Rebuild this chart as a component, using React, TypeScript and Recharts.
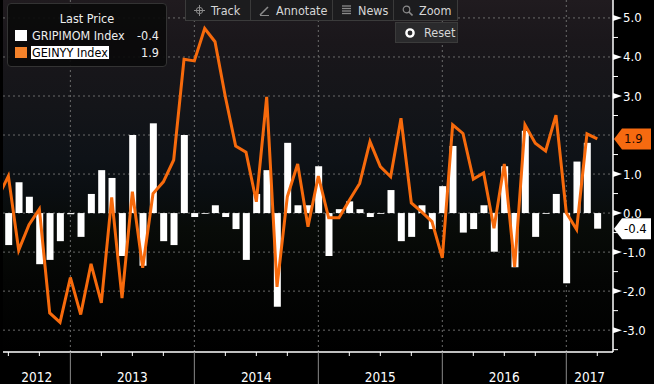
import React from "react";
import { ComposedChart, Bar, Line, XAxis, YAxis, CartesianGrid, ReferenceLine } from "recharts";

const FONT = '"DejaVu Sans Condensed", "DejaVu Sans", sans-serif';
const ORANGE = "#f76a0c";

// month-end observations
const months = [
  "2012-05", "2012-06", "2012-07", "2012-08", "2012-09", "2012-10", "2012-11", "2012-12",
  "2013-01", "2013-02", "2013-03", "2013-04", "2013-05", "2013-06", "2013-07", "2013-08", "2013-09", "2013-10", "2013-11", "2013-12",
  "2014-01", "2014-02", "2014-03", "2014-04", "2014-05", "2014-06", "2014-07", "2014-08", "2014-09", "2014-10", "2014-11", "2014-12",
  "2015-01", "2015-02", "2015-03", "2015-04", "2015-05", "2015-06", "2015-07", "2015-08", "2015-09", "2015-10", "2015-11", "2015-12",
  "2016-01", "2016-02", "2016-03", "2016-04", "2016-05", "2016-06", "2016-07", "2016-08", "2016-09", "2016-10", "2016-11", "2016-12",
  "2017-01", "2017-02", "2017-03",
];

// GRIPIMOM Index (bars)
const gripimom = [
  null, -0.82, 0.79, 0.42, -1.31, -1.2, -0.72, -0.03,
  -0.61, 0.49, 1.1, 0.9, -1.1, 2.0, -1.35, 2.3, -0.72, -0.82, 2.0, -0.1,
  -0.02, 0.2, -0.1, -0.41, -1.2, 0.49, 1.1, -2.4, 1.8, 0.2, 0.2, 1.2,
  -1.1, 0.1, 0.3, 0.1, -0.1, -0.02, 0.59, -0.72, -0.61, 0.2, -0.41, 0.69,
  1.72, -0.5, -0.41, 0.2, -0.99, 1.2, -1.39, 2.11, -0.61, -0.02, 0.49, -1.8,
  1.32, 1.8, -0.4,
];

// GEINYY Index (line)
const geinyy = [
  0.4, 0.95, -0.95, -0.3, 0.1, -2.56, -2.8, -1.65,
  -2.6, -1.3, -2.3, 0.4, -2.18, 0.55, -1.4, 0.5, 0.8, 1.36, 3.94, 3.9,
  4.73, 4.39, 2.98, 1.72, 1.56, 0.29, 2.98, -1.89, 0.42, 1.26, -0.35, 0.95,
  -0.12, -0.12, 0.33, 0.76, 1.83, 1.19, 0.93, 2.43, 0.26, 0.03, -0.22, -1.15,
  2.26, 2.04, 0.87, 1.03, -0.39, 1.26, -1.38, 2.26, 1.79, 1.59, 2.51, 0.01,
  -0.42, 2.03, 1.9,
];

const years = ["2012", "2013", "2014", "2015", "2016", "2017"];
const yTicks = [-3.5, -3, -2.5, -2, -1.5, -1, -0.5, 0, 0.5, 1, 1.5, 2, 2.5, 3, 3.5, 4, 4.5, 5];
const xDomain: [number, number] = [5.48, 64.52];
const yDomain: [number, number] = [-3.56, 5.46];

const monthIndex = (m: string) => {
  const [y, mo] = m.split("-").map(Number);
  return (y - 2012) * 12 + mo;
};

const data = months.map((m, i) => ({ t: monthIndex(m), bar: gripimom[i], line: geinyy[i] }));
const quarterTicks = data.map((d) => d.t).filter((t) => t % 3 === 0);
const yearStarts = years.map((_, i) => i * 12).filter((t) => t > xDomain[0] && t < xDomain[1]);
const yearCenters = years.map((_, i) => {
  const a = Math.max(i * 12, xDomain[0]);
  const b = Math.min(i * 12 + 12, xDomain[1]);
  return (a + b) / 2;
});
const xTicks = Array.from(new Set([...quarterTicks, ...yearCenters])).sort((a, b) => a - b);
const gridY = yTicks.filter((v) => Number.isInteger(v));
const lastBar = gripimom[gripimom.length - 1] as number;
const lastLine = geinyy[geinyy.length - 1];
const tagValues = [lastBar, lastLine];

function TimeTick(props: any) {
  const { x, y, payload } = props;
  const v = payload.value as number;
  const yi = yearCenters.indexOf(v);
  return (
    <g>
      {quarterTicks.includes(v) &&
        (v % 12 === 0 ? (
          <line x1={x} y1={y} x2={x} y2={y + 34} stroke="#8a8a8a" strokeWidth={1} />
        ) : (
          <line x1={x} y1={y} x2={x} y2={y + 4} stroke="#fff" strokeWidth={1} />
        ))}
      {yi >= 0 && (
        <text x={x} y={y + 30} textAnchor="middle" fill="#fff" fontFamily={FONT} fontSize={13.5}>
          {years[yi]}
        </text>
      )}
    </g>
  );
}

function PriceTick(props: any) {
  const { x, y, payload } = props;
  const v = payload.value as number;
  if (!Number.isInteger(v)) {
    return <line x1={x} y1={y} x2={x + 5} y2={y} stroke="#fff" strokeWidth={1} />;
  }
  if (tagValues.some((t) => Math.abs(t - v) < 0.3)) return <g />;
  return (
    <g>
      <polygon points={`${x},${y - 3} ${x},${y + 3} ${x + 9},${y}`} fill="#fff" />
      <text x={x + 10} y={y} dy={4.5} fill="#fff" fontFamily={FONT} fontSize={13}>
        {v.toFixed(1)}
      </text>
    </g>
  );
}

function ValueTag(props: any) {
  const { viewBox, value, fill, color } = props;
  const x = viewBox.x + viewBox.width;
  const y = viewBox.y;
  return (
    <g>
      <polygon
        points={`${x + 1},${y} ${x + 9},${y - 10.5} ${x + 38},${y - 10.5} ${x + 38},${y + 10.5} ${x + 9},${y + 10.5}`}
        fill={fill}
      />
      <text x={x + 11} y={y} dy={4.5} fill={color} fontFamily={FONT} fontSize={13}>
        {value.toFixed(1)}
      </text>
    </g>
  );
}

const btn: React.CSSProperties = {
  display: "flex",
  alignItems: "center",
  gap: 6,
  padding: "0 8px",
  height: "100%",
  borderRight: "1px solid #3a3a3a",
  boxSizing: "border-box",
};

function Toolbar() {
  return (
    <>
      <div
        style={{
          position: "absolute",
          left: 185,
          top: 0,
          width: 273,
          height: 21,
          background: "#1c1c1e",
          border: "1px solid #3b3b3b",
          borderTop: "none",
          boxSizing: "border-box",
          display: "flex",
          fontFamily: FONT,
          fontSize: 12.5,
          color: "#d6d6d6",
        }}
      >
        <div style={{ ...btn, width: 65 }}>
          <svg width="11" height="11" style={{ flexShrink: 0 }}>
            <circle cx="5.5" cy="5.5" r="3.2" fill="none" stroke="#8a8a8a" />
            <line x1="5.5" y1="0" x2="5.5" y2="11" stroke="#8a8a8a" />
            <line x1="0" y1="5.5" x2="11" y2="5.5" stroke="#8a8a8a" />
          </svg>
          Track
        </div>
        <div style={{ ...btn, width: 82 }}>
          <svg width="11" height="11" style={{ flexShrink: 0 }}>
            <line x1="1" y1="10" x2="9" y2="2" stroke="#8a8a8a" strokeWidth="1.6" />
            <line x1="1" y1="10.5" x2="10" y2="10.5" stroke="#8a8a8a" />
          </svg>
          Annotate
        </div>
        <div style={{ ...btn, width: 61 }}>
          <svg width="11" height="11" style={{ flexShrink: 0 }}>
            {[1, 3.5, 6, 8.5].map((yy) => (
              <line key={yy} x1="1" y1={yy} x2="10" y2={yy} stroke="#8a8a8a" strokeWidth="1.3" />
            ))}
          </svg>
          News
        </div>
        <div style={{ ...btn, width: 63, borderRight: "none" }}>
          <svg width="11" height="11" style={{ flexShrink: 0 }}>
            <circle cx="4.5" cy="4.5" r="3.3" fill="none" stroke="#8a8a8a" strokeWidth="1.2" />
            <line x1="7" y1="7" x2="10.5" y2="10.5" stroke="#8a8a8a" strokeWidth="1.6" />
          </svg>
          Zoom
        </div>
      </div>
      <div
        style={{
          position: "absolute",
          left: 395,
          top: 22,
          width: 63,
          height: 21,
          background: "#2a2a2c",
          border: "1px solid #3b3b3b",
          boxSizing: "border-box",
          display: "flex",
          alignItems: "center",
          gap: 8,
          padding: "0 8px",
          fontFamily: FONT,
          fontSize: 12.5,
          color: "#d6d6d6",
        }}
      >
        <svg width="12" height="12" style={{ flexShrink: 0 }}>
          <circle cx="6" cy="6" r="3.6" fill="none" stroke="#fff" strokeWidth="2.4" />
        </svg>
        Reset
      </div>
    </>
  );
}

function LegendBox() {
  const row: React.CSSProperties = {
    position: "absolute",
    left: 7,
    width: 144,
    height: 13,
    display: "flex",
    alignItems: "center",
    fontSize: 12.5,
  };
  return (
    <div
      style={{
        position: "absolute",
        left: 7,
        top: 3,
        width: 160,
        height: 64,
        background: "rgba(10,10,10,0.92)",
        border: "1px solid #333",
        borderRadius: 4,
        boxSizing: "border-box",
        fontFamily: FONT,
        color: "#eee",
      }}
    >
      <div style={{ position: "absolute", left: 0, width: 158, top: 8, textAlign: "center", fontSize: 12.5, lineHeight: "14px" }}>
        Last Price
      </div>
      <div style={{ ...row, top: 25 }}>
        <span style={{ width: 12, height: 11, background: "#fff", marginRight: 5 }} />
        <span>GRIPIMOM Index</span>
        <span style={{ marginLeft: "auto" }}>{lastBar.toFixed(1)}</span>
      </div>
      <div style={{ ...row, top: 42 }}>
        <span style={{ width: 12, height: 11, background: "#f5822a", marginRight: 4 }} />
        <span style={{ background: "#fff", color: "#000", padding: "0 1px", lineHeight: "13px" }}>GEINYY Index</span>
        <span style={{ marginLeft: "auto" }}>{lastLine.toFixed(1)}</span>
      </div>
    </div>
  );
}

export default function App() {
  return (
    <div style={{ position: "absolute", left: 0, top: 0, width: 654, height: 384, background: "#000", overflow: "hidden" }}>
      <ComposedChart width={654} height={384} data={data} margin={{ top: 0, right: 0, bottom: 0, left: 3 }}>
        <defs>
          <linearGradient id="plotBg" x1="0" y1="0" x2="0" y2="1">
            <stop offset="0%" stopColor="#201b1f" />
            <stop offset="12%" stopColor="#1a171b" />
            <stop offset="30%" stopColor="#141519" />
            <stop offset="45%" stopColor="#0e1217" />
            <stop offset="55%" stopColor="#0a0e11" />
            <stop offset="65%" stopColor="#080b08" />
            <stop offset="80%" stopColor="#040504" />
            <stop offset="100%" stopColor="#000" />
          </linearGradient>
        </defs>
        <CartesianGrid
          fill="url(#plotBg)"
          stroke="#6b6b6b"
          strokeDasharray="2 3"
          horizontalValues={gridY}
          verticalValues={yearStarts}
        />
        <XAxis
          dataKey="t"
          type="number"
          domain={xDomain}
          allowDataOverflow
          ticks={xTicks}
          interval={0}
          tick={<TimeTick />}
          tickLine={false}
          tickSize={0}
          tickMargin={0}
          axisLine={{ stroke: "#fff", strokeWidth: 1.5 }}
          height={32}
        />
        <YAxis
          orientation="right"
          type="number"
          domain={yDomain}
          allowDataOverflow
          ticks={yTicks}
          interval={0}
          tick={<PriceTick />}
          tickLine={false}
          tickSize={0}
          tickMargin={0}
          axisLine={{ stroke: "#fff", strokeWidth: 1.5 }}
          width={41}
        />
        <Bar dataKey="bar" fill="#fff" barSize={7} isAnimationActive={false} />
        <Line
          dataKey="line"
          type="linear"
          stroke={ORANGE}
          strokeWidth={3}
          dot={false}
          activeDot={false}
          isAnimationActive={false}
        />
        <ReferenceLine
          y={lastLine}
          stroke="none"
          label={(p: any) => <ValueTag {...p} value={lastLine} fill="#f66a10" color="#1a0800" />}
        />
        <ReferenceLine
          y={lastBar}
          stroke="none"
          label={(p: any) => <ValueTag {...p} value={lastBar} fill="#fff" color="#000" />}
        />
      </ComposedChart>
      <LegendBox />
      <Toolbar />
    </div>
  );
}
